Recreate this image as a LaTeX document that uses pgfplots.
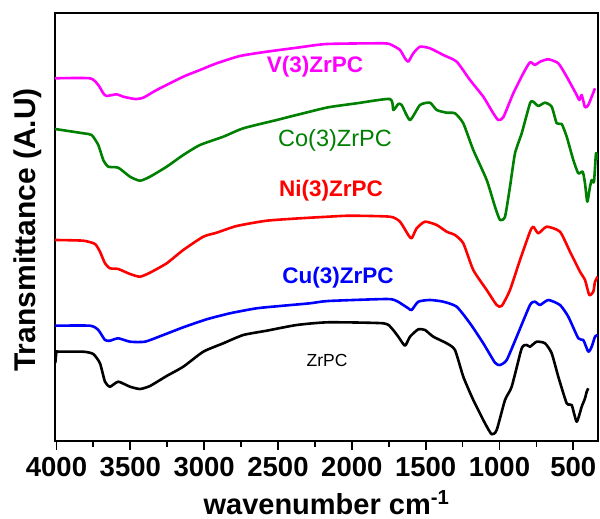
\documentclass[border=0pt]{standalone}
\usepackage{fontspec}
\setmainfont{Liberation Sans}
\usepackage{pgfplots}
\pgfplotsset{compat=1.18}
\definecolor{cV}{RGB}{255,0,255}
\definecolor{cCo}{RGB}{0,128,0}
\definecolor{cNi}{RGB}{255,0,0}
\definecolor{cCu}{RGB}{0,0,255}
\begin{document}
\begin{tikzpicture}
\begin{axis}[
  scale only axis, width=543pt, height=428pt,
  x dir=reverse, xmin=333, xmax=4010, ymin=0, ymax=428,
  xtick={500,1000,...,4000}, minor x tick num=1,
  ytick=\empty,
  tick align=outside, major tick length=9pt, minor tick length=6pt,
  every tick/.style={black, line width=1.8pt},
  axis line style={line width=2.4pt},
  xtick pos=bottom,
  /pgf/number format/assume math mode=true,
  /pgf/number format/1000 sep={},
  xticklabel style={font=\fontsize{27.5}{30}\selectfont\bfseries, yshift=-4pt},
  xlabel={wavenumber cm\textsuperscript{-1}},
  xlabel style={font=\fontsize{29}{32}\selectfont\bfseries, at={(axis description cs:0.5,-0.1706)}, anchor=base},
  ylabel={Transmittance (A.U)},
  ylabel style={font=\fontsize{30}{33}\selectfont\bfseries, at={(axis description cs:-0.0497,0.493)}, anchor=center},
  clip=true,
  every axis plot/.append style={line width=2.6pt, line join=round, smooth, tension=0.35},
]
% V(3)ZrPC
\addplot[cV] coordinates {
(4010,362.7)(3773.1,362.7)(3716.9,356)(3683.0,347.7)(3660.0,345)(3592.3,346.7)(3547.7,344.3)(3468.4,342)(3412.2,343.3)(3321.4,351)(3141.3,364.3)(3028.2,371)(2915.2,377.7)(2757.3,385)(2576.5,389.3)(2351.0,393.7)(2170.2,397)(1786.9,397.7)(1730.0,396)(1673.8,391)(1640.0,382.7)(1617.6,379.3)(1583.8,387.7)(1538.4,394.3)(1470.6,392.7)(1380.6,386)(1289.9,379.3)(1199.8,361)(1109.8,344.3)(1042.0,327.7)(1008.2,321)(974.3,323.7)(906.5,347.7)(838.8,367.7)(793.4,378.7)(759.6,376)(725.7,379.3)(669.5,381.7)(601.8,377.7)(544.9,364.3)(477.2,346)(459.6,341)(443.3,346)(421.0,333.7)(398.6,336)(375.6,344.3)(353.3,352.7)
};
% Co(3)ZrPC
\addplot[cCo] coordinates {
(4010,312)(3818.5,307.7)(3761.6,306)(3716.9,296)(3683.0,281)(3649.2,274.3)(3581.5,273.3)(3502.2,264.3)(3434.5,260.3)(3366.8,264.3)(3253.7,274.3)(3141.3,286)(3028.2,296)(2870.5,304.3)(2734.9,312.7)(2508.7,321)(2328.6,327.7)(2159.4,333.7)(1967.0,337.7)(1741.5,342)(1719.1,331)(1685.3,337)(1662.3,336)(1606.1,321)(1538.4,336)(1470.6,338.3)(1425.3,331)(1357.6,328.3)(1301.4,327.7)(1245.2,317.7)(1177.5,291)(1086.7,261)(1030.5,234.3)(996.6,221)(962.7,224.3)(928.9,254.3)(895.0,287.7)(849.7,307.7)(793.4,337.7)(771.1,339.3)(737.2,335)(691.8,338.3)(646.5,334.3)(612.6,317.7)(578.8,317)(544.9,304.3)(500.2,281)(466.4,267.7)(436.5,269.3)(421.0,257.7)(405.4,239.3)(387.1,254.3)(375.6,261)(360.0,259.3)(346.5,287.7)(335.0,281)
};
% Ni(3)ZrPC
\addplot[cNi] coordinates {
(4010,201)(3818.5,200.3)(3739.3,197)(3705.4,189.3)(3671.5,177.7)(3637.7,172.7)(3581.5,172)(3502.2,167)(3434.5,164.3)(3366.8,168.3)(3253.7,177.7)(3141.3,191)(3005.9,204.3)(2915.2,208.3)(2779.7,215)(2576.5,220.3)(2351.0,222.7)(2159.4,224.3)(2012.4,225.3)(1741.5,224.3)(1673.8,219.3)(1617.6,206)(1594.6,202.7)(1560.8,212.7)(1504.5,219.3)(1425.3,216)(1357.6,209.3)(1301.4,206)(1245.2,197.7)(1177.5,171)(1086.7,151)(1019.0,136)(985.1,135)(928.9,151)(861.2,181)(793.4,209.3)(771.1,214.3)(737.2,207.7)(680.3,214.3)(590.3,209.3)(522.6,189.3)(454.8,169.3)(421.0,161)(391.9,146)(364.8,149.3)(353.3,159.3)(335,164.3)
};
% Cu(3)ZrPC
\addplot[cCu] coordinates {
(4010,115.3)(3773.1,115.3)(3716.9,111)(3671.5,101)(3637.7,100.3)(3581.5,102.7)(3502.2,99.3)(3400.7,99.3)(3276.7,106)(3141.3,113.7)(2982.9,121.7)(2825.0,127.7)(2644.2,132.7)(2464.0,135.3)(2283.3,137.7)(2159.4,140)(1763.8,142)(1696.1,140)(1617.6,132.7)(1594.6,131)(1550.0,139.3)(1470.6,141)(1380.6,139.3)(1289.9,134.3)(1199.8,117.7)(1109.8,97.7)(1030.5,78.3)(996.6,76)(951.2,81)(883.5,104.3)(793.4,136)(759.6,139.3)(725.7,136)(669.5,141)(590.3,136)(534.1,124.3)(466.4,102.7)(432.5,101)(398.6,89.3)(375.6,94.3)(353.3,104.3)(335,106)
};
% ZrPC
\addplot[black] coordinates {
(4008,78)(4000,89.3)(3987.8,89.3)(3818.5,89.3)(3750.8,87)(3705.4,77.7)(3671.5,59.3)(3637.7,54.3)(3581.5,59.3)(3502.2,54.3)(3434.5,52)(3366.8,55)(3253.7,65)(3141.3,74.3)(3005.9,89.3)(2870.5,97.7)(2734.9,106)(2576.5,110.3)(2373.3,116)(2159.4,118.7)(1786.9,117.7)(1730.0,112.7)(1685.3,104.3)(1640.0,95.3)(1606.1,104.3)(1550.0,111.7)(1504.5,111)(1448.3,104.3)(1357.6,97.7)(1301.4,91)(1245.2,64.3)(1177.5,41)(1098.2,17.7)(1052.9,6.7)(1019.0,11)(962.7,41)(917.4,54.3)(849.7,92.7)(815.8,96)(793.4,94.3)(748.1,99.3)(691.8,97.7)(646.5,87.7)(601.8,64.3)(544.9,37.7)(511.1,36)(477.2,19.3)(443.3,34.3)(421.0,42.7)(409.5,49.3)(398.6,52.7)
};
\node[text=cV, font=\fontsize{22.5}{25}\selectfont\bfseries] at (axis cs:2249,374) {V(3)ZrPC};
\node[text=cCo, font=\fontsize{23.5}{26}\selectfont] at (axis cs:2114,301) {Co(3)ZrPC};
\node[text=cNi, font=\fontsize{22.5}{25}\selectfont\bfseries] at (axis cs:2141,250) {Ni(3)ZrPC};
\node[text=cCu, font=\fontsize{22.5}{25}\selectfont\bfseries] at (axis cs:2094,163) {Cu(3)ZrPC};
\node[text=black, font=\fontsize{17.5}{20}\selectfont] at (axis cs:2168,81) {ZrPC};
\end{axis}
\pgfresetboundingbox
\path (-55pt,-78pt) rectangle (545pt,441pt);
\end{tikzpicture}
\end{document}
